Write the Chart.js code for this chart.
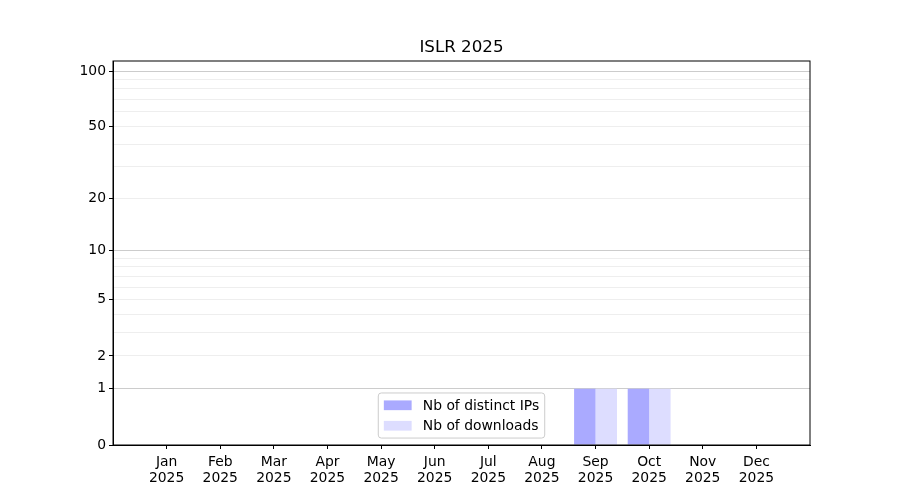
<!DOCTYPE html>
<html>
<head>
<meta charset="utf-8">
<script src="https://cdn.jsdelivr.net/npm/chart.js@4.4.1/dist/chart.umd.min.js"></script>
<style>
  html, body { margin: 0; padding: 0; background: #fff; }
  #wrap { width: 900px; height: 500px; }
</style>
</head>
<body>
<div id="wrap"><canvas id="islr-chart" width="900" height="500"></canvas></div>
<script>
const chartTitle = 'ISLR 2025';
const months = ['Jan', 'Feb', 'Mar', 'Apr', 'May', 'Jun', 'Jul', 'Aug', 'Sep', 'Oct', 'Nov', 'Dec'];
const year = '2025';
const distinctIps = [0, 0, 0, 0, 0, 0, 0, 0, 1, 1, 0, 0];
const downloads = [0, 0, 0, 0, 0, 0, 0, 0, 1, 1, 0, 0];
const labelledTicks = [0, 1, 2, 5, 10, 20, 50, 100];
const gridTicks = [0, 1, 2, 3, 4, 5, 6, 7, 8, 9, 10, 20, 30, 40, 50, 60, 70, 80, 90, 100];
const majorTicks = [1, 10, 100];

const FONT = "'DejaVu Sans', sans-serif";
const FS = 13.9;

// y axis is log10(1 + n)
const tf = v => Math.log10(1 + v);
const inv = t => Math.round(Math.pow(10, t) - 1);

const toPoints = arr => arr.map((v, i) => ({ x: i, y: tf(v) }));

// frame on all four sides + title centred over the plot area
const framePlugin = {
  id: 'frame',
  afterDraw(chart) {
    const { ctx, chartArea: a } = chart;
    ctx.save();
    ctx.strokeStyle = '#000';
    ctx.lineWidth = 1;
    ctx.strokeRect(a.left, a.top, a.right - a.left, a.bottom - a.top);
    ctx.fillStyle = '#000';
    ctx.font = '16.7px ' + FONT;
    ctx.textAlign = 'center';
    ctx.textBaseline = 'middle';
    ctx.fillText(chartTitle, (a.left + a.right) / 2, a.top - 13);
    ctx.restore();
  }
};

// matplotlib-style legend inside the axes, lower center
const boxLegend = {
  id: 'boxLegend',
  afterDraw(chart) {
    const { ctx, chartArea: a } = chart;
    const sets = chart.data.datasets;
    ctx.save();
    ctx.font = FS + 'px ' + FONT;
    const textW = Math.max(...sets.map(d => ctx.measureText(d.label).width));
    const pad = 0.4 * FS, rowH = 13.5, gap = 0.5 * FS;
    const handleW = 2 * FS, handleH = 0.7 * FS, textPad = 0.8 * FS;
    const w = pad * 2 + handleW + textPad + textW;
    const h = pad * 2 + rowH * sets.length + gap * (sets.length - 1);
    const left = (a.left + a.right) / 2 - w / 2;
    const bottom = a.bottom - 0.5 * FS;
    const top = bottom - h;

    ctx.beginPath();
    ctx.roundRect(left, top, w, h, 3);
    ctx.fillStyle = 'rgba(255,255,255,0.8)';
    ctx.fill();
    ctx.strokeStyle = '#cccccc';
    ctx.lineWidth = 1;
    ctx.stroke();

    sets.forEach((d, i) => {
      const cy = top + pad + rowH / 2 + i * (rowH + gap);
      ctx.fillStyle = d.backgroundColor;
      ctx.fillRect(left + pad, cy - handleH / 2, handleW, handleH);
      ctx.fillStyle = '#000';
      ctx.textBaseline = 'middle';
      ctx.textAlign = 'left';
      ctx.fillText(d.label, left + pad + handleW + textPad, cy + 1);
    });
    ctx.restore();
  }
};

new Chart(document.getElementById('islr-chart'), {
  type: 'bar',
  data: {
    datasets: [
      {
        label: 'Nb of distinct IPs',
        data: toPoints(distinctIps),
        backgroundColor: '#aaaaff',
        borderWidth: 0
      },
      {
        label: 'Nb of downloads',
        data: toPoints(downloads),
        backgroundColor: '#ddddff',
        borderWidth: 0
      }
    ]
  },
  options: {
    responsive: false,
    animation: false,
    devicePixelRatio: 1,
    layout: { padding: { left: 0, right: 90, top: 61, bottom: 0 } },
    datasets: { bar: { categoryPercentage: 0.8, barPercentage: 1.0 } },
    plugins: {
      legend: { display: false },
      tooltip: { enabled: false },
      title: { display: false }
    },
    scales: {
      x: {
        type: 'linear',
        min: -1,
        max: 12,
        offset: false,
        afterBuildTicks: scale => {
          scale.ticks = months.map((m, i) => ({ value: i }));
        },
        afterFit: scale => { scale.height = 55; },
        grid: {
          display: true,
          offset: false,
          drawOnChartArea: false,
          drawTicks: true,
          tickLength: 4,
          tickColor: '#000'
        },
        border: { display: true, color: '#000', width: 1 },
        ticks: {
          padding: 5,
          maxRotation: 0,
          autoSkip: false,
          color: '#000',
          font: { family: FONT, size: FS, lineHeight: 1.15 },
          callback: v => (months[v] ? [months[v], year] : '')
        }
      },
      y: {
        type: 'linear',
        min: 0,
        max: 2.058,
        afterBuildTicks: scale => {
          scale.ticks = gridTicks.map(v => ({ value: tf(v) }));
        },
        afterFit: scale => { scale.width = 113; },
        grid: {
          drawTicks: true,
          tickLength: 4,
          lineWidth: 1,
          color: c => {
            const n = inv(c.tick.value);
            if (n === 0) return 'rgba(0,0,0,0)';
            return majorTicks.includes(n) ? '#cccccc' : '#eeeeee';
          },
          tickColor: c => (labelledTicks.includes(inv(c.tick.value)) ? '#000' : 'rgba(0,0,0,0)')
        },
        border: { display: true, color: '#000', width: 1 },
        ticks: {
          padding: 3,
          autoSkip: false,
          color: '#000',
          font: { family: FONT, size: FS },
          callback: v => {
            const n = inv(v);
            return labelledTicks.includes(n) ? String(n) : '';
          }
        }
      }
    }
  },
  plugins: [framePlugin, boxLegend]
});
</script>
</body>
</html>
